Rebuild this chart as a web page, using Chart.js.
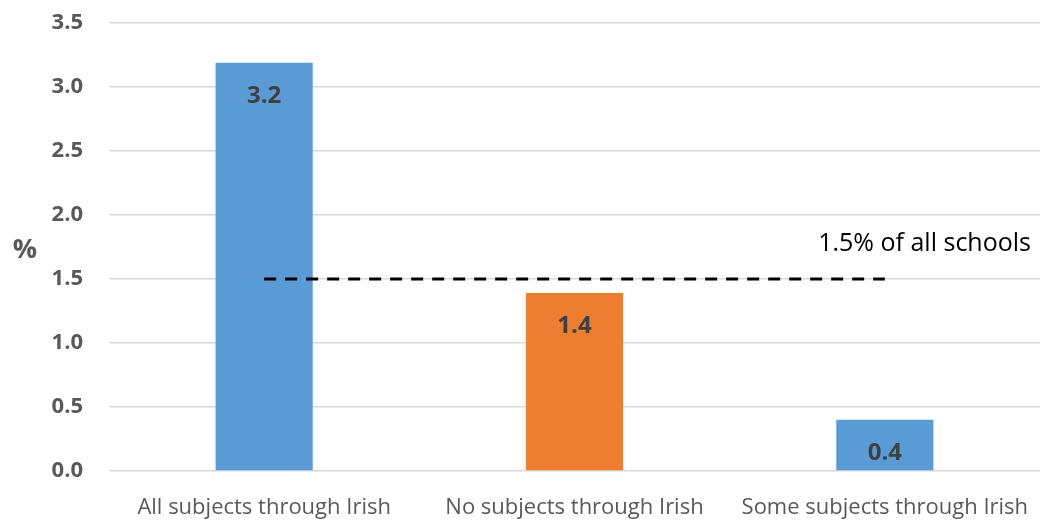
<!DOCTYPE html>
<html>
<head>
<meta charset="utf-8">
<script src="https://cdn.jsdelivr.net/npm/chart.js@4"></script>
<style>
  html, body { margin: 0; padding: 0; background: #fff; }
  #wrap { width: 1040px; height: 521px; position: relative; }
</style>
</head>
<body>
<div id="wrap"><canvas id="c"></canvas></div>
<script>
// ---------- data ----------
const categories = ['All subjects through Irish', 'No subjects through Irish', 'Some subjects through Irish'];
const shares = [3.19, 1.39, 0.40];          // % of schools
const shareLabels = ['3.2', '1.4', '0.4'];
const barColors = ['#5B9BD5', '#ED7D31', '#5B9BD5'];
const allSchools = [1.5, 1.5, 1.5];         // reference line
const refNote = '1.5% of all schools';

const FONT = '"Open Sans", sans-serif';
const GREY = '#595959';

// labels inside bars + "%" title + note on the reference line
const extras = {
  id: 'extras',
  afterDatasetsDraw(chart) {
    const { ctx, chartArea, scales } = chart;
    const meta = chart.getDatasetMeta(1);
    ctx.save();
    ctx.font = 'bold 24px ' + FONT;
    ctx.fillStyle = '#404040';
    ctx.textAlign = 'center';
    ctx.textBaseline = 'middle';
    meta.data.forEach((bar, i) => ctx.fillText(shareLabels[i], bar.x, bar.y + 33));

    ctx.font = 'bold 27px ' + FONT;
    ctx.fillStyle = GREY;
    ctx.fillText('%', 25, 250);

    ctx.font = '25px ' + FONT;
    ctx.fillStyle = '#000';
    ctx.textAlign = 'right';
    ctx.textBaseline = 'alphabetic';
    ctx.fillText(refNote, chartArea.right - 9, scales.y.getPixelForValue(1.5) - 28);
    ctx.restore();
  }
};

new Chart(document.getElementById('c'), {
  data: {
    labels: categories,
    datasets: [
      {
        type: 'line', data: allSchools, order: 0,
        borderColor: '#000', borderWidth: 3, borderDash: [12, 9],
        pointRadius: 0, fill: false,
      },
      {
        type: 'bar', data: shares, order: 1,
        backgroundColor: barColors,
        categoryPercentage: 1, barPercentage: 0.313,
      },
    ],
  },
  options: {
    responsive: true, maintainAspectRatio: false, animation: false,
    layout: { padding: { top: 23, right: 0, left: 0, bottom: 0 } },
    plugins: { legend: { display: false }, tooltip: { enabled: false } },
    scales: {
      x: {
        grid: { display: false }, border: { display: false },
        ticks: { color: GREY, font: { family: FONT, size: 22 }, padding: 16, maxRotation: 0 },
        afterFit: s => { s.height = 50; s.paddingLeft = 0; s.paddingRight = 0; },
      },
      y: {
        min: 0, max: 3.5,
        grid: { color: '#D9D9D9', lineWidth: 1.5, drawTicks: false },
        border: { display: false },
        ticks: {
          stepSize: 0.5, color: GREY, padding: 26,
          font: { family: FONT, size: 22, weight: 'bold' },
          callback: v => v.toFixed(1),
        },
        afterFit: s => { s.width = 109; s.paddingTop = 0; s.paddingBottom = 0; },
      },
    },
  },
  plugins: [extras],
});
</script>
</body>
</html>
